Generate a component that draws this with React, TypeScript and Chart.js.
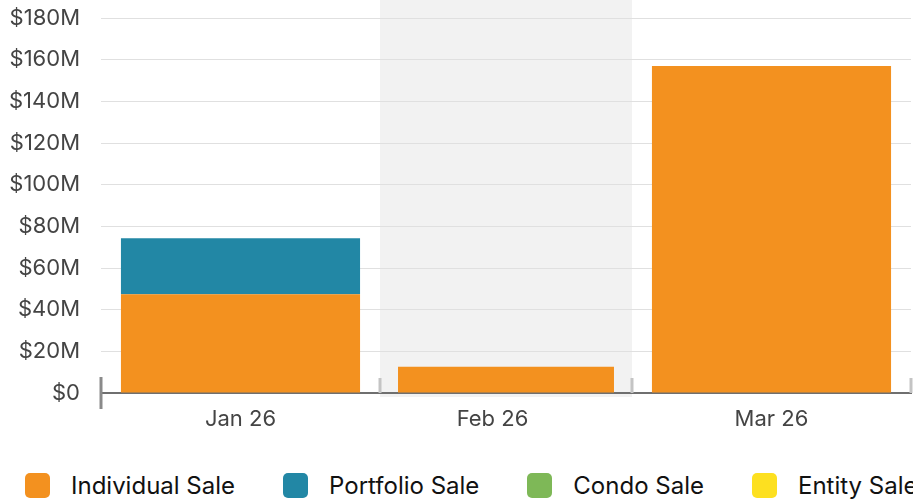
import React, { useEffect, useRef } from "react";
import { Chart, registerables } from "chart.js";

Chart.register(...registerables);

// ---- data ----
const monthLabels = ["Jan 26", "Feb 26", "Mar 26"];
const monthStartDays = [0, 31, 59, 90]; // day offsets of month boundaries
const labelDays = [15.5, 43.5, 74.5]; // where the month labels sit
const highlightedMonth = 1;

const seriesNames = ["Individual Sale", "Portfolio Sale", "Condo Sale", "Entity Sale"];
const seriesColors = ["#F3911F", "#2287A5", "#7EB857", "#FDE020"];

const individualSale = [47.4, 12.6, 157]; // $M
const portfolioSale = [26.9, 0, 0];
const condoSale = [0, 0, 0];
const entitySale = [0, 0, 0];

const yMax = 180;
const yStep = 20;

const BAR_FILL = 0.857;
const FONT = "Inter, 'Noto Sans', sans-serif";

const seriesValues = [individualSale, portfolioSale, condoSale, entitySale];

const monthMid = (i: number) => (monthStartDays[i] + monthStartDays[i + 1]) / 2;

const highlightPlugin = {
  id: "monthHighlight",
  beforeDraw(chart: any) {
    const { ctx, chartArea, scales } = chart;
    const x = scales.x;
    const a = x.getPixelForValue(monthStartDays[highlightedMonth]);
    const b = x.getPixelForValue(monthStartDays[highlightedMonth + 1]);
    ctx.save();
    ctx.fillStyle = "#f2f2f2";
    ctx.fillRect(a, 0, b - a, chartArea.bottom + 4);
    ctx.restore();
  },
};

const monthBarsPlugin = {
  id: "monthBars",
  afterDatasetsUpdate(chart: any) {
    const x = chart.scales.x;
    chart.data.datasets.forEach((_ds: any, di: number) => {
      const meta = chart.getDatasetMeta(di);
      meta.data.forEach((el: any, i: number) => {
        const a = x.getPixelForValue(monthStartDays[i]);
        const b = x.getPixelForValue(monthStartDays[i + 1]);
        el.x = (a + b) / 2;
        el.width = (b - a) * BAR_FILL;
      });
    });
  },
};

const boundaryTicksPlugin = {
  id: "boundaryTicks",
  afterDraw(chart: any) {
    const { ctx, chartArea, scales } = chart;
    const x = scales.x;
    ctx.save();
    ctx.lineWidth = 3;
    monthStartDays.forEach((d, i) => {
      const px = x.getPixelForValue(d);
      ctx.beginPath();
      if (i === 0) {
        ctx.strokeStyle = "#8a8a8a";
        ctx.moveTo(px, chartArea.bottom - 16);
        ctx.lineTo(px, chartArea.bottom + 16);
      } else {
        ctx.strokeStyle = "#c4c4c4";
        ctx.moveTo(px, chartArea.bottom - 15);
        ctx.lineTo(px, chartArea.bottom);
      }
      ctx.stroke();
    });
    ctx.restore();
  },
};

export default function App() {
  const ref = useRef<HTMLCanvasElement | null>(null);

  useEffect(() => {
    document.body.style.margin = "0";
    if (!ref.current) return;
    const chart = new Chart(ref.current, {
      type: "bar",
      data: {
        datasets: seriesNames.map((name, si) => ({
          label: name,
          data: seriesValues[si].map((v, i) => ({ x: monthMid(i), y: v })),
          backgroundColor: seriesColors[si],
          borderWidth: 0,
        })),
      },
      options: {
        animation: false,
        responsive: true,
        maintainAspectRatio: false,
        events: [],
        layout: { padding: { top: 18, right: 2, left: 0, bottom: 0 } },
        plugins: {
          legend: { display: false },
          tooltip: { enabled: false },
        },
        scales: {
          x: {
            type: "linear",
            stacked: true,
            min: monthStartDays[0],
            max: monthStartDays[monthStartDays.length - 1],
            offset: false,
            grid: { display: false, drawTicks: false },
            border: { color: "#6f6f6f", width: 2 },
            afterBuildTicks(s: any) {
              s.ticks = labelDays.map((v) => ({ value: v }));
            },
            ticks: {
              autoSkip: false,
              maxRotation: 0,
              padding: 13,
              color: "#444",
              font: { family: FONT, size: 22 },
              callback: (_v: any, i: number) => monthLabels[i],
            },
            afterFit(s: any) {
              s.height = 47;
              s.paddingLeft = 0;
              s.paddingRight = 0;
            },
          },
          y: {
            stacked: true,
            min: 0,
            max: yMax,
            grid: { color: "#e0e0e0", drawTicks: false },
            border: { display: false },
            ticks: {
              stepSize: yStep,
              padding: 21,
              color: "#444",
              font: { family: FONT, size: 22 },
              callback: (v: any) => (Number(v) === 0 ? "$0" : `$${v}M`),
            },
            afterFit(s: any) {
              s.width = 101;
              s.paddingTop = 0;
              s.paddingBottom = 0;
            },
          },
        },
      } as any,
      plugins: [highlightPlugin, monthBarsPlugin, boundaryTicksPlugin],
    });
    return () => chart.destroy();
  }, []);

  return (
    <div style={{ position: "relative", width: 913, height: 502, overflow: "hidden", background: "#fff" }}>
      <div style={{ position: "absolute", left: 0, top: 0, width: 913, height: 440 }}>
        <canvas ref={ref} />
      </div>
      <div
        style={{
          position: "absolute",
          left: 25,
          top: 466,
          height: 38,
          width: 888,
          overflow: "hidden",
          display: "flex",
          alignItems: "center",
          whiteSpace: "nowrap",
          fontFamily: FONT,
          fontSize: 24,
          color: "#111",
        }}
      >
        {seriesNames.map((n, i) => (
          <span key={n} style={{ display: "inline-flex", alignItems: "center", flexShrink: 0, marginRight: 48 }}>
            <span
              style={{
                display: "inline-block",
                width: 25,
                height: 25,
                borderRadius: 5,
                background: seriesColors[i],
                marginRight: 21,
                flexShrink: 0,
              }}
            />
            {n}
          </span>
        ))}
      </div>
    </div>
  );
}
